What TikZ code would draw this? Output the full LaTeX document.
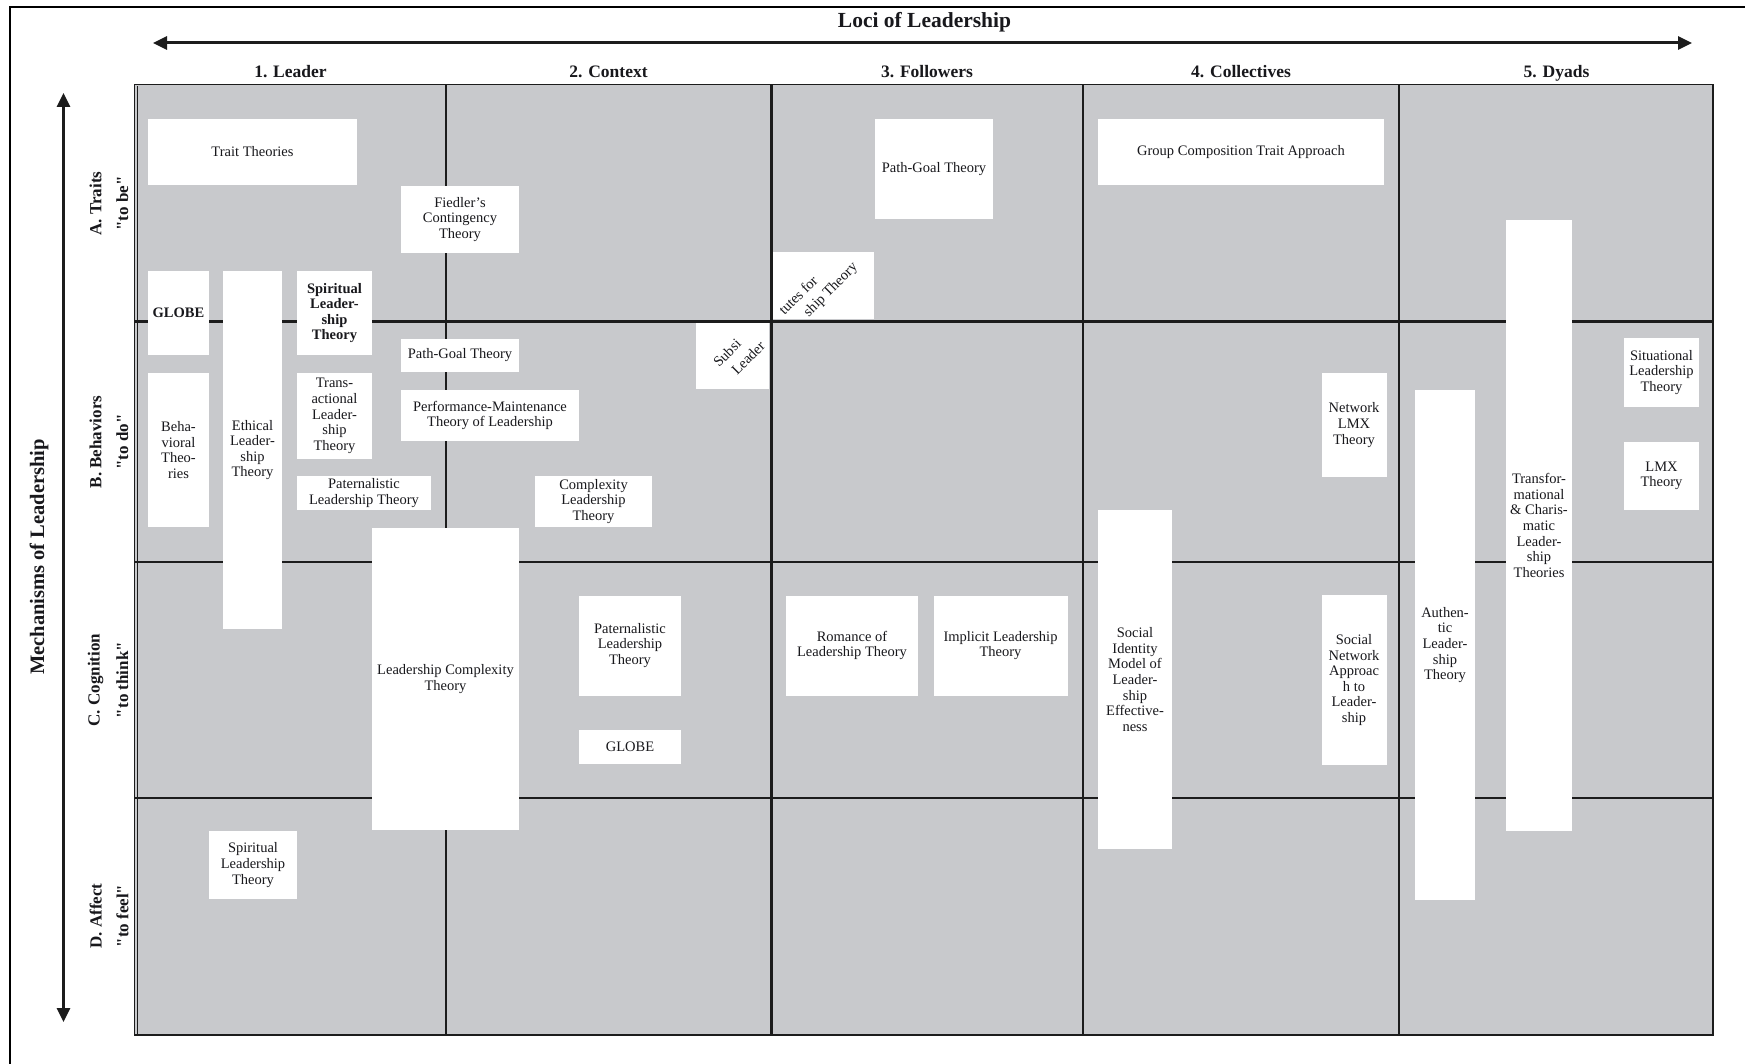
\documentclass[tikz,border=0pt]{standalone}
\usepackage{fontspec}
\setmainfont{Liberation Serif}
\newfontfamily\qfont{Liberation Serif}[Ligatures=TeXOff]
\usetikzlibrary{arrows.meta}
\definecolor{cellgray}{RGB}{200,201,204}
\definecolor{ink}{RGB}{24,24,28}
\definecolor{gridline}{RGB}{28,28,28}
\tikzset{
  thbox/.style={fill=white, inner sep=0pt, align=center, text=ink,
    font=\fontsize{14.5}{15.6}\selectfont, anchor=center},
  thboxb/.style={thbox, font=\bfseries\fontsize{14.5}{15.6}\selectfont},
  frag/.style={inner sep=0pt, rotate=45, text=ink, font=\fontsize{14.5}{15.6}\selectfont},
  rowlab/.style={inner sep=0pt, rotate=90, text=ink, font=\qfont\bfseries\fontsize{17}{20}\selectfont},
  colhead/.style={inner sep=0pt, anchor=base, text=ink, font=\bfseries\fontsize{17.5}{20}\selectfont},
  gridl/.style={draw=gridline, line width=2.6pt},
  bigarrow/.style={draw=gridline, line width=3pt,
    {Triangle[length=14pt,width=13pt]}-{Triangle[length=14pt,width=13pt]}},
}
\begin{document}
\begin{tikzpicture}[x=1pt,y=-1pt]
\useasboundingbox (0,0) rectangle (1745,1064);
\fill[white] (0,0) rectangle (1745,1064);
% outer frame
\draw[black, line width=1.6pt] (10,1064) -- (10,7.3) -- (1745,7.3);
% title
\node[inner sep=0pt, anchor=base, text=ink, font=\bfseries\fontsize{21.5}{24}\selectfont] (title) at (924.5,27.5) {Loci of Leadership};
% horizontal arrow
\coordinate (hl) at (153,43);
\coordinate (hr) at (1692,43);
\draw[bigarrow] (hl) -- (hr);
% vertical arrow
\coordinate (vt) at (63.5,93);
\coordinate (vb) at (63.5,1022);
\draw[bigarrow] (vt) -- (vb);
% column headers
\node[colhead] (h1) at (290.5,77.5) {1. Leader};
\node[colhead] (h2) at (608.5,77.5) {2. Context};
\node[colhead] (h3) at (927,77.5) {3. Followers};
\node[colhead] (h4) at (1241,77.5) {4. Collectives};
\node[colhead] (h5) at (1556.5,77.5) {5. Dyads};
% side labels
\node[inner sep=0pt, rotate=90, text=ink, font=\bfseries\fontsize{20.5}{24}\selectfont] (mech) at (39,557) {Mechanisms of Leadership};
\node[rowlab] (ra1) at (95.7,203.5) {A. Traits};
\node[rowlab] (ra2) at (122.4,203.5) {"to be"};
\node[rowlab] (rb1) at (95.7,442) {B. Behaviors};
\node[rowlab] (rb2) at (122.4,442) {"to do"};
\node[rowlab] (rc1) at (95.7,680) {C. Cognition};
\node[rowlab] (rc2) at (122.4,680) {"to think"};
\node[rowlab] (rd1) at (95.7,916) {D. Affect};
\node[rowlab] (rd2) at (122.4,916) {"to feel"};
% grid
\fill[cellgray] (135,85) rectangle (1713,1035);
\draw[gridl] (446,85) -- (446,1035);
\draw[gridl] (771.5,85) -- (771.5,1035);
\draw[gridl] (1083,85) -- (1083,1035);
\draw[gridl] (1399,85) -- (1399,1035);
\draw[gridl] (135,321.5) -- (1713,321.5);
\draw[gridl] (135,562) -- (1713,562);
\draw[gridl] (135,798) -- (1713,798);
\draw[gridline, line width=1.3pt] (134.5,84.5) rectangle (1713,1035);
\draw[gridline, line width=0.8pt] (137.3,86.5) -- (137.3,1034);
% theory boxes
\node[thbox, minimum width=209pt, minimum height=66pt] (trait) at (252.5,152) {Trait Theories};
\node[thbox, minimum width=118pt, minimum height=67pt] (fiedler) at (460,219.5) {Fiedler's\\Contingency\\Theory};
\node[thboxb, minimum width=61pt, minimum height=84pt] (globeA) at (178.5,313) {GLOBE};
\node[thbox, minimum width=59pt, minimum height=358pt] (ethical) at (252.5,450) {Ethical\\Leader-\\ship\\Theory};
\node[thboxb, minimum width=75pt, minimum height=84pt] (spiritB) at (334.5,313) {Spiritual\\Leader-\\ship\\Theory};
\node[thbox, minimum width=118pt, minimum height=33pt] (pgC) at (460,355.5) {Path-Goal Theory};
\node[thbox, minimum width=178pt, minimum height=51pt] (perf) at (490,415.5) {Performance-Maintenance\\Theory of Leadership};
\node[thbox, minimum width=61pt, minimum height=154pt] (behav) at (178.5,450) {Beha-\\vioral\\Theo-\\ries};
\node[thbox, minimum width=75pt, minimum height=86pt] (transact) at (334.5,416) {Trans-\\actional\\Leader-\\ship\\Theory};
\node[thbox, minimum width=134pt, minimum height=34pt] (patL) at (364,493) {Paternalistic\\Leadership Theory};
\node[thbox, minimum width=117pt, minimum height=51pt] (complex) at (593.5,501.5) {Complexity\\Leadership\\Theory};
\node[thbox, minimum width=73pt, minimum height=66pt] (substB) at (732.5,356) {};
\node[thbox, minimum width=101pt, minimum height=67pt] (substA) at (823.5,285.5) {};
\node[thbox, minimum width=118pt, minimum height=100pt] (pgF) at (934,169) {Path-Goal Theory};
\node[thbox, minimum width=286pt, minimum height=66pt] (group) at (1241,152) {Group Composition Trait Approach};
\node[thbox, minimum width=147pt, minimum height=302pt] (lct) at (445.5,679) {Leadership Complexity\\Theory};
\node[thbox, minimum width=102pt, minimum height=100pt] (patC) at (630,645.5) {Paternalistic\\Leadership\\Theory};
\node[thbox, minimum width=102pt, minimum height=33.5pt] (globeC) at (630,746.75) {GLOBE};
\node[thbox, minimum width=88pt, minimum height=68pt] (spiritD) at (253,865) {Spiritual\\Leadership\\Theory};
\node[thbox, minimum width=132pt, minimum height=100pt] (romance) at (852,645.5) {Romance of\\Leadership Theory};
\node[thbox, minimum width=134pt, minimum height=100pt] (implicit) at (1000.5,645.5) {Implicit Leadership\\Theory};
\node[thbox, minimum width=74pt, minimum height=339pt] (sime) at (1135,679.5) {Social\\Identity\\Model of\\Leader-\\ship\\Effective-\\ness};
\node[thbox, minimum width=65pt, minimum height=104pt] (netlmx) at (1354,425) {Network\\LMX\\Theory};
\node[thbox, minimum width=65pt, minimum height=170pt] (socnet) at (1354,680) {Social\\Network\\Approac\\h to\\Leader-\\ship};
\node[thbox, minimum width=60pt, minimum height=510pt] (authentic) at (1445,645) {Authen-\\tic\\Leader-\\ship\\Theory};
\node[thbox, minimum width=66pt, minimum height=611pt] (transform) at (1539,525.5) {Transfor-\\mational\\\& Charis-\\matic\\Leader-\\ship\\Theories};
\node[thbox, minimum width=75pt, minimum height=69pt] (situational) at (1661.5,372.5) {Situational\\Leadership\\Theory};
\node[thbox, minimum width=75pt, minimum height=68pt] (lmx) at (1661.5,476) {LMX\\Theory};
% rotated fragments of the substitutes label
\node[frag] (fragA1) at (798,295) {tutes for};
\node[frag] (fragA2) at (831,290) {ship Theory};
\node[frag] (fragB1) at (727,353) {Subsi};
\node[frag] (fragB2) at (748,358) {Leader};
\end{tikzpicture}
\end{document}
